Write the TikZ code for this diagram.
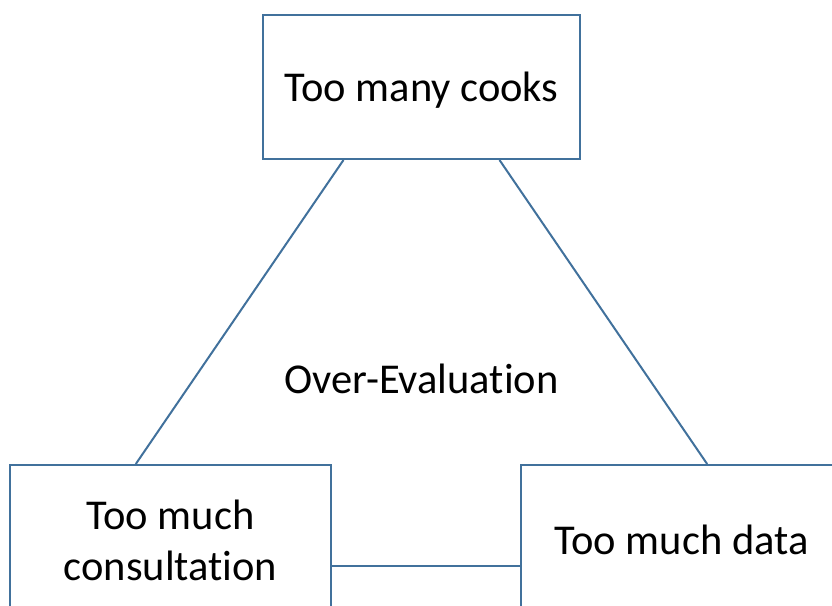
\documentclass[tikz,border=0pt]{standalone}
\usepackage{fontspec}
\setmainfont[Ligatures={NoCommon,NoContextual,NoRare},RawFeature=-clig]{Carlito}
\usetikzlibrary{calc}
\definecolor{boxblue}{RGB}{65,113,156}
\begin{document}
\begin{tikzpicture}[x=1pt,y=-1pt,
  box/.style={draw=boxblue,line width=2pt,fill=white,inner sep=0pt},
  link/.style={draw=boxblue,line width=2pt},
  lbl/.style={font=\fontsize{42.5}{51}\selectfont,align=center}]
\useasboundingbox (0,0) rectangle (832,605);
\clip (0,0) rectangle (832,605);
\node[box,minimum width=317pt,minimum height=144pt] (top) at (421.5,87) {};
\node[box,minimum width=321pt,minimum height=202pt] (left) at (170.5,566) {};
\node[box,minimum width=321pt,minimum height=202pt] (right) at (681.5,566) {};
\node[lbl] (ttext) at (421.5,90) {Too many cooks};
\node[lbl] (ltext) at (170.5,540) {Too much\\consultation};
\node[lbl] (rtext) at (681.5,540) {Too much data};
\node[lbl] (mid) at (421.5,379) {Over-Evaluation};
\coordinate (t1) at ($(top.south west)!0.2555!(top.south east)$);
\coordinate (t2) at ($(top.south west)!0.7445!(top.south east)$);
\coordinate (l1) at ($(left.north west)!0.3925!(left.north east)$);
\coordinate (r1) at ($(right.north west)!0.5794!(right.north east)$);
\draw[link] (t1) -- (l1);
\draw[link] (t2) -- (r1);
\draw[link] (left.east) -- (right.west);
\end{tikzpicture}
\end{document}
